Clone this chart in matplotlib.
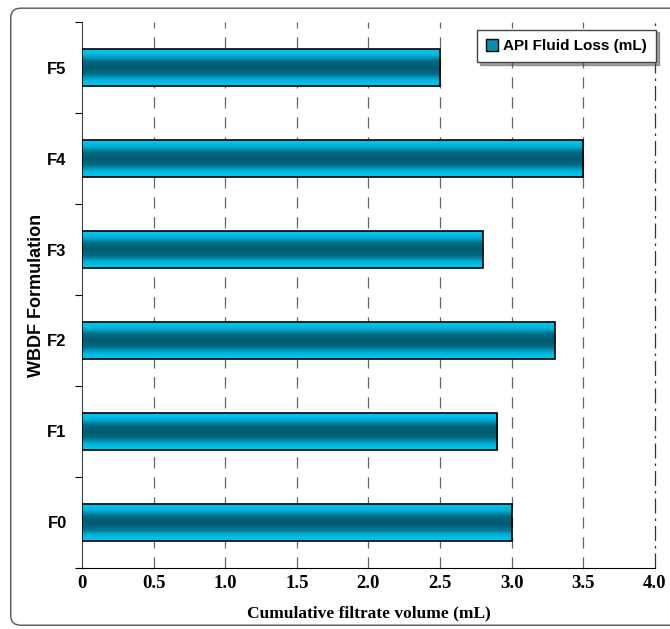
import numpy as np
import matplotlib
matplotlib.use("Agg")
from matplotlib import pyplot as plt
from matplotlib.colors import LinearSegmentedColormap
from matplotlib.patches import Patch, FancyBboxPatch

formulations = ["F0", "F1", "F2", "F3", "F4", "F5"]
fluid_loss = [3.0, 2.9, 3.3, 2.8, 3.5, 2.5]
x_ticks = [0, 0.5, 1.0, 1.5, 2.0, 2.5, 3.0, 3.5, 4.0]
x_tick_labels = ["0", "0.5", "1.0", "1.5", "2.0", "2.5", "3.0", "3.5", "4.0"]

fig = plt.figure(figsize=(6.7, 6.29), dpi=100)

# rounded frame round the whole chart
frame = FancyBboxPatch((0.016, 0.006), 1.0, 0.981, boxstyle="round,pad=0,rounding_size=0.015",
                       transform=fig.transFigure, facecolor="none", edgecolor="#555555",
                       linewidth=1.0, clip_on=False)
fig.patches.append(frame)

ax = fig.add_axes([0.1224, 0.097, 0.855, 0.868])

grad = LinearSegmentedColormap.from_list(
    "bar", ["#00ccf5", "#00b0d8", "#006a82", "#005a70", "#006a82", "#00b0d8", "#00ccf5"])
g = np.linspace(0, 1, 100).reshape(-1, 1)
h = 0.4
for i, v in enumerate(fluid_loss):
    ax.imshow(g, cmap=grad, aspect="auto", extent=[0, v, i - h / 2, i + h / 2],
              origin="lower", zorder=3, interpolation="bicubic")
ax.barh(range(len(formulations)), fluid_loss, height=h, facecolor="none",
        edgecolor="black", linewidth=1.2, zorder=4)

for xv in x_ticks[1:]:
    if xv < 4:
        ax.axvline(xv, color="#666666", linewidth=0.9, dashes=(9, 7), zorder=1)
    else:
        ax.axvline(xv, color="#333333", linewidth=0.9, dashes=(12, 4, 2, 4), zorder=1, clip_on=False)

ax.set_xlim(0, 4.0)
ax.set_ylim(-0.5, 5.5)
ax.set_xticks(x_ticks)
ax.set_xticklabels(x_tick_labels, fontfamily="Liberation Serif", fontweight="bold", fontsize=13.5)
ax.tick_params(axis="x", length=0, pad=5)

ax.set_yticks(np.arange(-0.5, 6, 1.0))
ax.set_yticklabels([])
ax.set_yticks(range(len(formulations)), minor=True)
ax.set_yticklabels(formulations, minor=True, fontfamily="Liberation Sans", fontweight="bold", fontsize=12)
ax.tick_params(axis="y", which="major", length=5, direction="out")
ax.tick_params(axis="y", which="minor", length=0, pad=11)

ax.spines["top"].set_visible(False)
ax.spines["right"].set_visible(False)
ax.spines["left"].set_color("#444444")
ax.spines["bottom"].set_bounds(-0.02, 4.0)

ax.set_xlabel("Cumulative filtrate volume (mL)", fontfamily="Liberation Serif",
              fontweight="bold", fontsize=12.5, labelpad=10)
ax.set_ylabel("WBDF Formulation", fontfamily="Liberation Sans", fontweight="bold",
              fontsize=13, labelpad=2)

handle = Patch(facecolor="#0a8db0", edgecolor="black", linewidth=1.0)
leg = ax.legend([handle], ["API Fluid Loss (mL)"], loc="upper right",
                bbox_to_anchor=(1.015, 1.0), fancybox=False, shadow=True,
                prop={"family": "Liberation Sans", "weight": "bold", "size": 11},
                handlelength=0.8, handleheight=0.8,
                handletextpad=0.3, borderpad=0.6, framealpha=1)
leg.get_frame().set_edgecolor("#444444")

fig.savefig("out.png", dpi=100)
